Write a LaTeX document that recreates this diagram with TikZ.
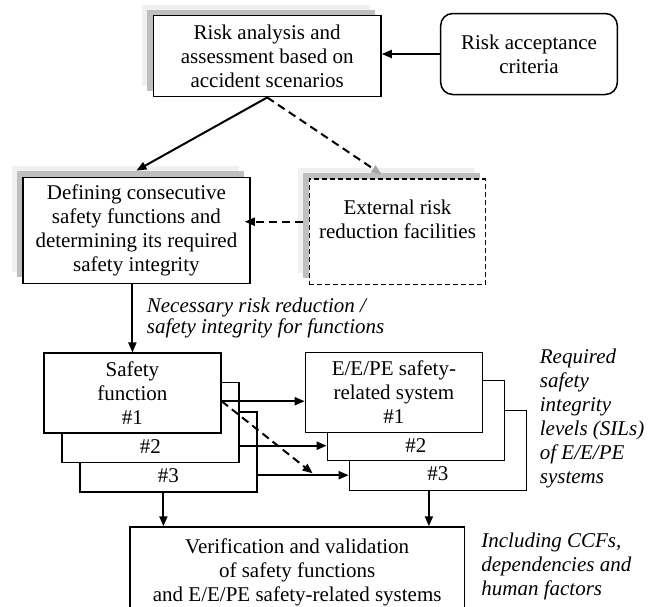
\documentclass[tikz,border=0pt]{standalone}
\usepackage{fontspec}
\setmainfont{Liberation Serif}
\usepackage{tikz}
\usetikzlibrary{positioning, calc, shapes, fit, backgrounds, shadows, arrows.meta}

\begin{document}
\begin{tikzpicture}[x=1pt, y=1pt, node distance=30pt,
    every node/.style={font=\fontsize{21}{24}\selectfont},
    box/.style={rectangle, draw, line width=1.5pt, fill=white, align=center, inner sep=0pt},
    stack/.style={box, minimum width=177pt, minimum height=80pt},
    shade3d/.style={general shadow={fill=gray!12, shadow xshift=-11pt, shadow yshift=11pt}, general shadow={fill=gray!50, shadow xshift=-6pt, shadow yshift=6pt}},
    note/.style={align=left, inner sep=0pt, font=\fontsize{21}{24}\selectfont\itshape},
    link/.style={line width=2pt, -{Triangle[length=10pt, width=8pt]}},
    dashlink/.style={link, dash pattern=on 8pt off 5pt}]
    \useasboundingbox (0,0) rectangle (655,-606);

    \node[box, shade3d, minimum width=227.7pt, minimum height=81pt] (risk) at (267.2,-56.2) {Risk analysis and\\assessment based on\\accident scenarios};
    \node[box, rounded corners=12pt, right of=risk, xshift=231.8pt, yshift=2.2pt, minimum width=176.6pt, minimum height=81pt] (accept) {Risk acceptance\\criteria};
    \node[box, shade3d, below of=risk, xshift=-130.8pt, yshift=-144.1pt, minimum width=227.3pt, minimum height=106pt] (define) {Defining consecutive\\safety functions and\\determining its required\\safety integrity};
    \node[box, shade3d, dash pattern=on 5pt off 3pt, right of=define, xshift=231.1pt, yshift=-1.4pt, minimum width=176.4pt, minimum height=105.3pt] (external) {External risk\\reduction facilities\\~};
    \node[note, below of=define, anchor=west, xshift=10.3pt, yshift=-58pt, font=\fontsize{21}{21}\selectfont\itshape] (necessary) {Necessary risk reduction /\\safety integrity for functions};

    \node[stack, below of=define, xshift=-4pt, yshift=-132.9pt] (sf1) {Safety\\function\\\#1};
    \node[stack, right of=sf1, xshift=231.5pt, yshift=0.9pt] (ee1) {E/E/PE safety-\\related system\\\#1};
    \begin{pgfonlayer}{background}
    \node[stack, below of=sf1, xshift=36pt, yshift=-29pt, label={[yshift=-23pt]center:\#3}] (sf3) {};
    \node[stack, below of=sf1, xshift=18pt, yshift=0.5pt, label={[yshift=-24pt]center:\#2}] (sf2) {};
    \node[stack, below of=ee1, xshift=44pt, yshift=-28pt, label={[yshift=-23.5pt]center:\#3}] (ee3) {};
    \node[stack, below of=ee1, xshift=22pt, yshift=2pt, label={[yshift=-25pt]center:\#2}] (ee2) {};
    \end{pgfonlayer}
    \node[note, right of=ee1, anchor=west, xshift=115.8pt, yshift=-25.7pt] (sil) {Required\\safety\\integrity\\levels (SILs)\\of E/E/PE\\systems};

    \node[box, below of=sf3, xshift=128.8pt, yshift=-89.8pt, minimum width=334.7pt, minimum height=90pt] (verify) {Verification and validation\\of safety functions\\and E/E/PE safety-related systems};
    \node[note, right of=verify, anchor=west, xshift=154pt, yshift=5.7pt] (ccf) {Including CCFs,\\dependencies and\\human factors};

    \path[link]
    (accept.west) edge (accept.west -| risk.east)
    (risk.south) edge ([yshift=6pt]define.north)
    (define.south -| sf1.north) edge (sf1.north)
    ([yshift=-8pt]sf1.east) edge ([yshift=-8pt]sf1.east -| ee1.west)
    ([yshift=-23pt]sf2.east) edge ([yshift=-23pt]sf2.east -| ee2.west)
    ([yshift=-23pt]sf3.east) edge ([yshift=-23pt]sf3.east -| ee3.west)
    ([xshift=-5pt]sf3.south) edge ([xshift=-5pt]sf3.south |- verify.north)
    ([xshift=-9pt]ee3.south) edge ([xshift=-9pt]ee3.south |- verify.north);

    \path[dashlink]
    (risk.south) edge[-{Triangle[length=10pt, width=8pt, color=gray!70]}] ([xshift=-16pt, yshift=4pt]external.north)
    ([shift={(-6pt,10pt)}]external.west) edge ([shift={(-6pt,10pt)}]external.west -| define.east)
    ([yshift=-8pt]sf1.east) edge ([shift={(-36pt,-23pt)}]ee3.west);
\end{tikzpicture}
\end{document}
